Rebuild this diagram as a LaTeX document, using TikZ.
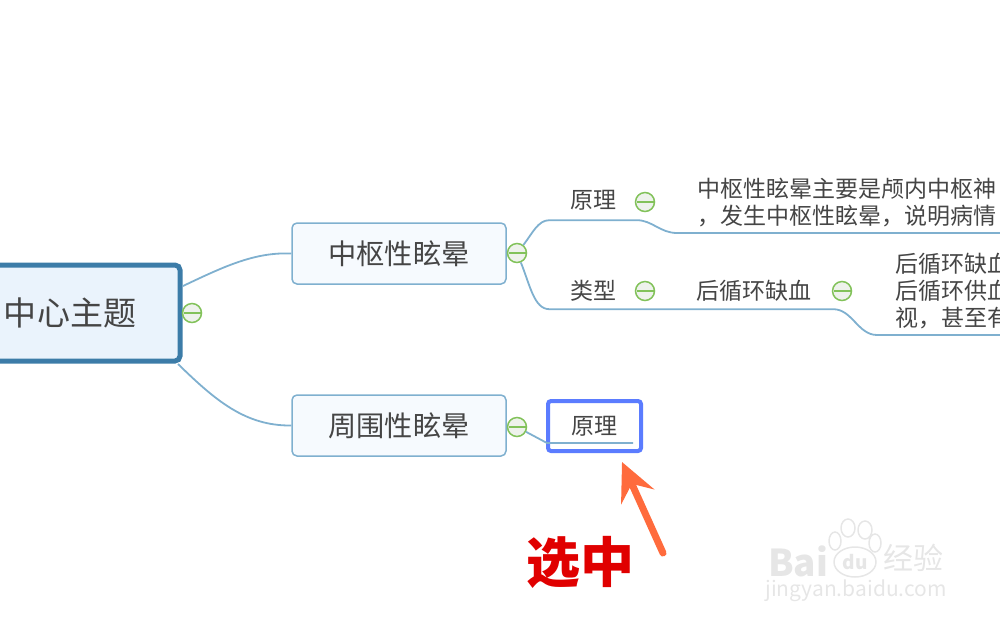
\documentclass[tikz,border=0pt]{standalone}
\usepackage{fontspec}
\setmainfont{Noto Sans CJK SC}
\usetikzlibrary{
  arrows.meta,
  positioning
}
\definecolor{rootline}{HTML}{3C7CA8}
\definecolor{rootfill}{HTML}{EAF3FC}
\definecolor{branchline}{HTML}{7FB0CF}
\definecolor{branchfill}{HTML}{F6FAFE}
\definecolor{inktext}{HTML}{454545}
\definecolor{togglegreen}{HTML}{82C25A}
\definecolor{togglefill}{HTML}{EEF2EC}
\definecolor{selectblue}{HTML}{5B7CFF}
\definecolor{pointer}{HTML}{FF6B3D}
\definecolor{marked}{HTML}{E00000}
\definecolor{watermark}{HTML}{E6E6E6}
\tikzset{
  root/.style={
    draw=rootline,
    line width=5pt,
    rounded corners=5pt,
    fill=rootfill,
    text=inktext,
    minimum height=96pt,
    minimum width=220pt,
    inner sep=0pt,
    font=\fontsize{33}{36}\selectfont
  },
  branch/.style={
    draw=branchline,
    line width=1.5pt,
    rounded corners=5pt,
    fill=branchfill,
    text=inktext,
    minimum height=61pt,
    minimum width=214pt,
    inner sep=0pt,
    font=\fontsize{28.2}{32}\selectfont
  },
  topic/.style={
    text=inktext,
    inner sep=0pt,
    minimum height=36pt,
    font=\fontsize{23}{26}\selectfont
  },
  detail/.style={
    topic,
    align=left,
    anchor=south west,
    inner ysep=5.5pt
  },
  selected/.style={
    topic,
    draw=selectblue,
    line width=4pt,
    rounded corners=3pt,
    fill=white,
    minimum height=50pt,
    minimum width=93pt
  },
  toggle/.style={
    circle,
    draw=togglegreen,
    line width=1.5pt,
    fill=togglefill,
    minimum size=19pt,
    inner sep=0pt,
    path picture={
      \draw[togglegreen, line width=1.5pt]
        ([xshift=1pt]path picture bounding box.west) --
        ([xshift=-1pt]path picture bounding box.east);
    }
  },
  link/.style={draw=branchline, line width=1.8pt},
  pointerarrow/.style={
    draw=pointer,
    line width=7pt,
    line cap=round,
    -{Stealth[length=38pt, width=36pt, inset=14pt]}
  },
  paw/.style={draw=watermark, line width=1.5pt}
}

\begin{document}
\begin{tikzpicture}[x=1pt, y=-1pt]
  \useasboundingbox (0,0) rectangle (1000,625);
  \clip (0,0) rectangle (1000,625);

  \node[root] (center) at (70,313) {中心主题};
  \node[branch] (central) at (399,253.5) {中枢性眩晕};
  \node[branch] (peripheral) at (399,425.5) {周围性眩晕};

  \node[topic, minimum width=87pt, minimum height=40pt] (principle) at (593,200) {原理};
  \node[topic, minimum width=87pt] (kinds) at (593,291) {类型};
  \node[topic, minimum width=158pt] (ischemia) at (754,291) {后循环缺血};
  \node[detail, text width=360pt, inner xsep=20pt] (principletext) at (677,233)
    {中枢性眩晕主要是颅内中枢神\\[1pt]，发生中枢性眩晕，说明病情};
  \node[detail, text width=200pt, inner xsep=18pt] (ischemiatext) at (877,335)
    {后循环缺血\\[1pt]后循环供血\\[1pt]视，甚至有};

  \node[toggle] (togglecenter) at (192,313) {};
  \node[toggle] (togglecentral) at (517,253) {};
  \node[toggle] (toggleperipheral) at (517,427) {};
  \node[toggle] (toggleprinciple) at (645,202) {};
  \node[toggle] (togglekinds) at (645,291) {};
  \node[toggle] (toggleischemia) at (842,291) {};

  \coordinate (rootupper) at (183,286);
  \coordinate (rootlower) at (178,364);
  \coordinate (selectstart) at (547,443);
  \coordinate (selectend) at (633,443);

  \draw[link] (rootupper) .. controls (225,266) and (255,252) .. (central.west);
  \draw[link] (rootlower) .. controls (215,400) and (245,426) .. (peripheral.west);
  \draw[link] (togglecentral) .. controls (532,234) and (538,220) .. (principle.south west)
    -- (principle.south east) .. controls (652,220) and (660,233) .. (principletext.south west)
    -- (principletext.south east);
  \draw[link] (togglecentral) .. controls (530,285) and (534,309) .. (kinds.south west)
    -- (ischemia.south east) .. controls (852,309) and (858,335) .. (ischemiatext.south west)
    -- (ischemiatext.south east);

  \node[selected] (select) at (594.5,426) {原理\hspace{3pt}};
  \draw[link] (toggleperipheral) -- (selectstart) -- (selectend);

  \coordinate (pointertail) at (663,553);
  \coordinate (pointertip) at (622,462);
  \draw[pointerarrow] (pointertail) -- (pointertip);
  \node[font=\fontsize{54}{58}\selectfont\bfseries, text=marked, inner sep=0pt] (marktext) at (580,562) {选中};

  % watermark
  \draw[paw] (848,528) ellipse (7pt and 9pt);
  \draw[paw] (865,530) ellipse (7pt and 9pt);
  \draw[paw] (835,541) ellipse (6pt and 9pt);
  \draw[paw] (875,543) ellipse (6pt and 9pt);
  \draw[paw] (855,562) ellipse (21pt and 15pt);
  \node[text=watermark, font=\fontsize{37}{40}\selectfont\bfseries, inner sep=0pt] (wmbai) at (798,561) {Bai};
  \node[text=watermark, font=\fontsize{19}{22}\selectfont\bfseries, inner sep=0pt] (wmdu) at (855,562) {du};
  \node[text=watermark, font=\fontsize{30}{32}\selectfont, inner sep=0pt] (wmjing) at (913,558) {经验};
  \node[text=watermark, font=\fontsize{21}{24}\selectfont, inner sep=0pt] (wmurl) at (856,591) {jingyan.baidu.com};
\end{tikzpicture}
\end{document}
